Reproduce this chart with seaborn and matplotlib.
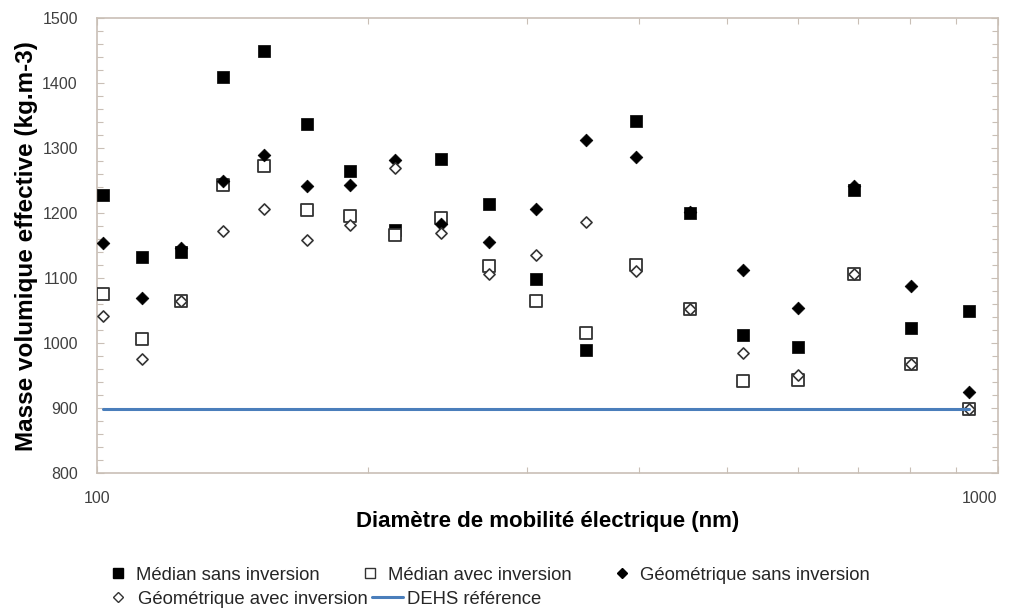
### Bibliotecas
import numpy as np
import pandas as pd
import matplotlib
matplotlib.use("Agg")
import matplotlib.pyplot as plt
from matplotlib.ticker import FixedLocator, FixedFormatter, NullFormatter
from matplotlib.lines import Line2D
import seaborn as sns

### Données
diametre = [101.5, 112, 124, 138, 153, 171, 191, 214, 241, 272,
            307, 349, 397, 455, 521, 600, 692, 801, 930]
median_sans = [1228, 1133, 1140, 1410, 1450, 1337, 1265, 1174, 1283, 1214,
               1098, 989, 1342, 1200, 1013, 994, 1235, 1023, 1049]
median_avec = [1076, 1006, 1064, 1243, 1273, 1205, 1195, 1167, 1192, 1118,
               1065, 1015, 1120, 1053, 941, 943, 1107, 967, 899]
geo_sans = [1154, 1069, 1146, 1249, 1290, 1242, 1244, 1282, 1183, 1156,
            1207, 1312, 1286, 1202, 1112, 1054, 1242, 1088, 925]
geo_avec = [1042, 976, 1064, 1172, 1206, 1159, 1181, 1270, 1169, 1107,
            1135, 1186, 1111, 1053, 985, 950, 1107, 967, 899]
dehs_x = [101.5, 930]
dehs_y = [898, 898]

noms = ["Médian sans inversion", "Médian avec inversion",
        "Géométrique sans inversion", "Géométrique avec inversion",
        "DEHS référence"]

df = pd.DataFrame({"d": diametre, "ms": median_sans, "ma": median_avec,
                   "gs": geo_sans, "ga": geo_avec})

### Style
sns.set_theme(style="white")
plt.rcParams["font.family"] = ["Liberation Sans", "DejaVu Sans"]
cadre = "#c9bfb6"
texte = "#404040"
bleu = "#4a7ebb"

fig = plt.figure(figsize=(10.2, 6.14), dpi=100)
ax = fig.add_axes([0.0954, 0.230, 0.8826, 0.740])

sns.scatterplot(data=df, x="d", y="ms", ax=ax, marker="s", s=85,
                color="black", edgecolor="black", linewidth=0.5, zorder=3)
sns.scatterplot(data=df, x="d", y="ma", ax=ax, marker="s", s=70,
                facecolor="white", edgecolor="#333333", linewidth=1.3, zorder=4)
sns.scatterplot(data=df, x="d", y="gs", ax=ax, marker="D", s=42,
                color="black", edgecolor="black", linewidth=0.5, zorder=5)
sns.scatterplot(data=df, x="d", y="ga", ax=ax, marker="D", s=32,
                facecolor="white", edgecolor="#333333", linewidth=1.2, zorder=6)
sns.lineplot(x=dehs_x, y=dehs_y, ax=ax, color=bleu, linewidth=2.2, zorder=7)

### Axes
ax.set_xscale("log")
ax.set_xlim(100, 1000)
ax.set_ylim(800, 1500)
ax.xaxis.set_major_locator(FixedLocator([100, 1000]))
ax.xaxis.set_minor_locator(FixedLocator([200, 300, 400, 500, 600, 700, 800, 900]))
ax.xaxis.set_major_formatter(FixedFormatter(["100", "1000"]))
ax.xaxis.set_minor_formatter(NullFormatter())
ax.yaxis.set_major_locator(FixedLocator(np.arange(800, 1501, 100)))
ax.yaxis.set_minor_locator(FixedLocator(np.arange(800, 1501, 20)))

for s in ax.spines.values():
    s.set_color(cadre)
    s.set_linewidth(1.2)
ax.tick_params(which="both", direction="in", top=True, right=True,
               bottom=True, left=True, color=cadre, width=0.8,
               labelcolor=texte, labelsize=11.5)
ax.tick_params(which="major", length=5)
ax.tick_params(which="minor", length=4)
ax.tick_params(axis="x", pad=13)
ax.tick_params(axis="y", pad=14)
lbl = ax.get_xticklabels()
lbl[0].set_ha("center")
lbl[-1].set_ha("right")

ax.set_xlabel("Diamètre de mobilité électrique (nm)", fontsize=16,
              fontweight="bold", color="black", labelpad=4)
ax.set_ylabel("Masse volumique effective (kg.m-3)", fontsize=17.5,
              fontweight="bold", color="black", labelpad=3)

### Légende (deux lignes, comme dans Excel)
h_ms = Line2D([], [], ls="", marker="s", ms=7, mfc="black", mec="black")
h_ma = Line2D([], [], ls="", marker="s", ms=7, mfc="white", mec="#333333", mew=1)
h_gs = Line2D([], [], ls="", marker="D", ms=5, mfc="black", mec="black")
h_ga = Line2D([], [], ls="", marker="D", ms=5, mfc="white", mec="#333333", mew=1)
h_dehs = Line2D([], [], color=bleu, lw=2.2)

fig.legend([h_ms, h_ma, h_gs], noms[:3], ncol=3, loc="center left",
           bbox_to_anchor=(0.1066, 1 - 575 / 614), frameon=False,
           fontsize=13.3, handlelength=1.0, handletextpad=0.5,
           columnspacing=2.2, borderpad=0, borderaxespad=0)
fig.legend([h_ga, h_dehs], noms[3:], ncol=2, loc="center left",
           bbox_to_anchor=(0.1005, 1 - 599 / 614), frameon=False,
           fontsize=13.3, handlelength=1.68, handletextpad=0.25,
           columnspacing=0.2, borderpad=0, borderaxespad=0)

fig.savefig("out.png", dpi=100)
